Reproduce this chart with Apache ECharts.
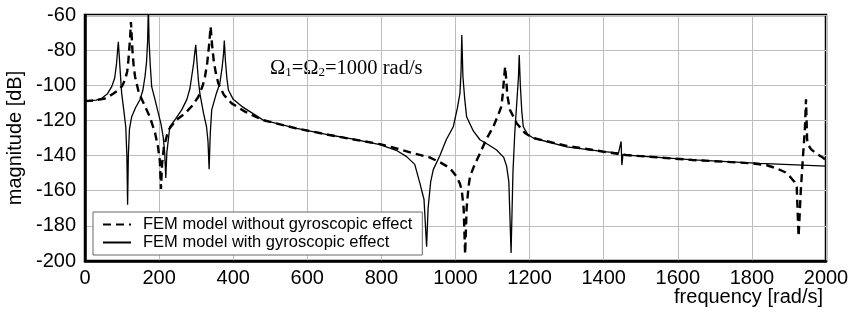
<!DOCTYPE html>
<html>
<head>
<meta charset="UTF-8">
<title>FEM frequency response</title>
<script src="https://cdn.jsdelivr.net/npm/echarts@6/dist/echarts.min.js"></script>
<style>
  html, body { margin: 0; padding: 0; background: #fff; }
  #main { width: 862px; height: 314px; }
</style>
</head>
<body>
<div id="main"></div>
<script>
// FEM model without gyroscopic effect (dashed)
var freqNoGyro = [0, 30, 54, 75, 90, 100, 108, 114, 117, 120, 122, 124, 126, 128, 131, 135, 145, 162, 175, 189, 197, 202, 205, 208, 213, 225, 245, 270, 290, 306, 318, 324, 330, 335, 339, 343, 348, 354, 360, 375, 396, 432, 480, 570, 660, 730, 796, 850, 886, 930, 960, 976, 990, 1003, 1012, 1017, 1022, 1026, 1030, 1035, 1039, 1050, 1066, 1085, 1102, 1115, 1124, 1128, 1131, 1134, 1137, 1140, 1147, 1165, 1188, 1210, 1300, 1400, 1460, 1640, 1800, 1840, 1867, 1890, 1903, 1915, 1921, 1926, 1932, 1938, 1943, 1946, 1949, 1952, 1960, 1975, 1990, 2000];
var magNoGyro  = [-109, -108.5, -107.5, -105, -102.7, -100.5, -97, -92, -86, -78, -72, -64, -72, -80, -88, -95, -104, -112, -118, -127, -135, -143, -159, -145, -135, -125.5, -120, -116, -111.5, -106.5, -100, -95, -87, -77, -66.6, -77, -87, -94, -99, -105.5, -110.3, -115, -119.8, -124.5, -128.3, -131, -133.5, -136.5, -138.7, -141, -144, -146, -148.5, -152, -156, -160, -170, -196, -170, -158, -152, -146, -138.7, -130, -123.6, -117, -112, -104, -96, -89.4, -97, -106, -114, -121.6, -127.3, -130, -134.5, -137.8, -139.7, -142.5, -144.4, -145.5, -147.3, -149.5, -152, -155, -158, -186, -160, -140, -125, -108, -131, -134, -136.5, -139, -141, -142.5];

// FEM model with gyroscopic effect (solid)
var freqGyro = [0, 30, 45, 60, 72, 80, 85, 88, 90, 92, 95, 99, 104, 110, 113, 115, 117, 120, 126, 137, 148, 156, 162, 166, 169, 171, 173, 176, 180, 190, 198, 205, 211, 215, 218, 221, 229, 245, 261, 275, 283, 288, 293, 296, 299, 302, 306, 310, 320, 328, 332, 335, 338, 342, 354, 364, 370, 374, 376, 379, 383, 387, 400, 423, 481, 571, 661, 724, 796, 840, 868, 890, 904, 915, 922, 926, 933, 940, 958, 975, 994, 1005, 1012, 1015, 1017, 1020, 1025, 1030, 1048, 1066, 1090, 1111, 1130, 1138, 1144, 1150, 1155, 1160, 1166, 1170, 1172, 1175, 1179, 1183, 1195, 1210, 1300, 1400, 1440, 1445, 1447, 1449, 1452, 1462, 1642, 1822, 2000];
var magGyro  = [-109, -108.5, -107.4, -105, -100.8, -96, -88, -80, -75.2, -82, -92, -104.6, -113, -123.6, -140, -168, -140, -125, -117.9, -112.5, -108.4, -103, -95, -87, -75, -55, -75, -88, -100.8, -109, -116, -122, -129.3, -138, -152.8, -138, -123.6, -119, -114, -108, -102, -95, -88, -82, -77, -86, -97, -104.6, -116, -123.6, -132, -147.8, -128, -114, -105, -98.9, -90, -82, -74.6, -86, -96, -102.7, -108, -112, -119.8, -124.5, -128.3, -130.6, -133.8, -137, -140.6, -145, -155.8, -165, -191.9, -170, -155, -148, -140, -131, -123.6, -113, -104.6, -92, -71.4, -95, -108, -117.9, -126, -131, -134, -136.8, -141, -146, -155, -195.5, -150, -127, -108, -95, -82.8, -100, -115, -123.6, -128, -130, -135, -137.8, -138.5, -138.7, -132, -145.4, -139.3, -139.7, -142.5, -144.4, -146];

var seriesNames = ['FEM model without gyroscopic effect', 'FEM model with gyroscopic effect'];
var xTicks = { min: 0, max: 2000, step: 200 };
var yTicks = { min: -200, max: -60, step: 20 };

function pairs(xs, ys) {
  var out = [];
  for (var i = 0; i < xs.length; i++) {
    out.push([xs[i], ys[i]]);
  }
  return out;
}

var chart = echarts.init(document.getElementById('main'));
var sans = 'Liberation Sans';

chart.setOption({
  animation: false,
  backgroundColor: '#fff',
  grid: {
    left: 85, right: 36, top: 15, bottom: 53,
    outerBoundsMode: 'none',
    containLabel: false,
    show: true,
    borderColor: '#000',
    borderWidth: 2.5,
    backgroundColor: 'transparent'
  },
  legend: {
    orient: 'vertical',
    left: 93,
    top: 212,
    backgroundColor: '#fff',
    borderColor: '#666',
    borderWidth: 1,
    borderRadius: 0,
    padding: [4, 10, 4, 9],
    itemGap: 1,
    itemWidth: 28,
    itemHeight: 14,
    itemStyle: { opacity: 0 },
    textStyle: { fontFamily: sans, fontSize: 16.5, color: '#000', padding: [0, 0, 0, 7] },
    data: seriesNames
  },
  graphic: [{
    type: 'text',
    left: 270,
    top: 58,
    style: {
      text: '{o|Ω}{s|1}{o|=Ω}{s|2}{o|=1000 rad/s}',
      rich: {
        o: { fontFamily: 'Liberation Serif', fontSize: 20.5, fill: '#000' },
        s: { fontFamily: 'Liberation Serif', fontSize: 13, fill: '#000', padding: [9, 0, 0, 0] }
      }
    }
  }, {
    // x-axis title, right-aligned under the end of the axis
    type: 'text',
    right: 39,
    top: 287,
    style: { text: 'frequency [rad/s]', fontFamily: sans, fontSize: 20, fill: '#000' }
  }],
  xAxis: {
    type: 'value',
    min: xTicks.min, max: xTicks.max, interval: xTicks.step,
    axisLine: { onZero: false, lineStyle: { color: '#000', width: 2.5 } },
    axisTick: { show: false },
    axisLabel: { fontFamily: sans, fontSize: 20, color: '#000', margin: 7, formatter: function (v) { return String(v); } },
    splitLine: { show: true, lineStyle: { color: '#bdbdbd', width: 1 } }
  },
  yAxis: {
    type: 'value',
    min: yTicks.min, max: yTicks.max, interval: yTicks.step,
    name: 'magnitude [dB]',
    nameLocation: 'middle',
    nameGap: 56,
    nameTextStyle: { fontFamily: sans, fontSize: 20, color: '#000' },
    axisLine: { show: true, onZero: false, lineStyle: { color: '#000', width: 2.5 } },
    axisTick: { show: false },
    axisLabel: { fontFamily: sans, fontSize: 20, color: '#000', margin: 9, formatter: function (v) { return String(v); } },
    splitLine: { show: true, lineStyle: { color: '#bdbdbd', width: 1 } }
  },
  series: [{
    name: seriesNames[0],
    type: 'line',
    symbol: 'none',
    clip: true,
    z: 3,
    lineStyle: { color: '#000', width: 2.4, type: [8, 5] },
    itemStyle: { color: '#000' },
    data: pairs(freqNoGyro, magNoGyro)
  }, {
    name: seriesNames[1],
    type: 'line',
    symbol: 'none',
    clip: true,
    z: 4,
    lineStyle: { color: '#000', width: 1.3 },
    itemStyle: { color: '#000' },
    data: pairs(freqGyro, magGyro)
  }]
});
</script>
</body>
</html>
